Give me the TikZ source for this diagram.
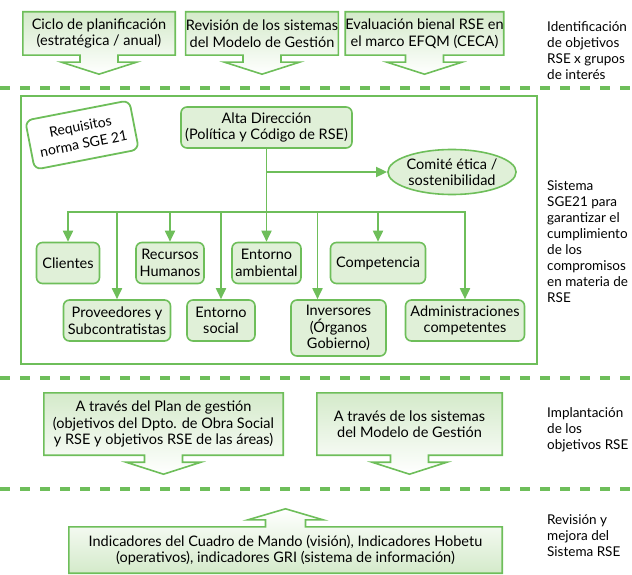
\documentclass[tikz,border=0pt]{standalone}
\usepackage{fontspec}
\setmainfont{Lato}
\usetikzlibrary{shapes.geometric,backgrounds,calc,arrows.meta}

\definecolor{sgegreen}{RGB}{110,190,90}
\definecolor{sgelight}{RGB}{224,240,216}
\definecolor{sgeshade}{RGB}{212,234,202}

\begin{document}
\begin{tikzpicture}[
x=1pt,y=-1pt,
every node/.style={font=\fontsize{14.5}{16.5}\selectfont},
arrowbox/.style={
  align=center,
  inner sep=0pt
  },
grupo/.style={
  draw=sgegreen,
  fill=sgelight,
  line width=1.6pt,
  rounded corners=6pt,
  align=center,
  inner sep=0pt,
  minimum height=41pt
  },
nota/.style={anchor=west,align=left,inner sep=0pt,font=\fontsize{13.5}{16}\selectfont},
conn/.style={sgegreen,line width=1.8pt},
arrowed/.style={-{Triangle[length=11pt,width=10pt]}},
divider/.style={sgegreen,line width=3.5pt,dash pattern=on 10pt off 10pt},
flecha/.style={draw=sgegreen,line width=1.6pt}
]
\useasboundingbox (0,0) rectangle (632,575);

% objetivos
\node[arrowbox,minimum width=152pt,minimum height=43pt] (ciclo) at (99,33.5) {Ciclo de planificación\\(estratégica / anual)};
\node[arrowbox,minimum width=152pt,minimum height=43pt] (revision) at (262,33.5) {Revisión de los sistemas\\del Modelo de Gestión};
\node[arrowbox,minimum width=153pt,minimum height=43pt] (evaluacion) at (424.5,33.5) {Evaluación bienal RSE en\\el marco EFQM (CECA)};
\node[nota] (identificacion) at (547,51) {Identificación\\de objetivos\\RSE x grupos\\de interés};

\draw[divider] (0,88) -- (632,88);

% sistema SGE21
\draw[sgegreen,line width=2.5pt] (21,96) rectangle (537,364);
\node[draw=sgegreen,fill=white,line width=1.8pt,rounded corners=7pt,rotate=11,
  minimum width=106pt,minimum height=50pt,align=center,inner sep=0pt,
  font=\fontsize{14}{17.5}\selectfont] (requisitos) at (82,135) {Requisitos\\norma SGE 21};
\node[grupo,minimum width=171pt] (alta) at (266.5,127.5) {Alta Dirección\\(Política y Código de RSE)};
\node[draw=sgegreen,fill=sgelight,line width=1.6pt,ellipse,align=center,inner sep=0pt,
  minimum width=120pt,minimum height=45pt] (comite) at (452,172) {Comité ética /\\sostenibilidad};

\node[grupo,minimum width=63pt] (clientes) at (68,263) {Clientes};
\node[grupo,minimum width=68pt] (recursos) at (170,263) {Recursos\\Humanos};
\node[grupo,minimum width=69pt] (ambiental) at (266.5,263) {Entorno\\ambiental};
\node[grupo,minimum width=95pt] (competencia) at (378,263) {Competencia};
\node[grupo,minimum width=107pt] (proveedores) at (117,320.5) {Proveedores y\\Subcontratistas};
\node[grupo,minimum width=68pt] (social) at (221,320.5) {Entorno\\social};
\node[grupo,minimum width=95pt,minimum height=56pt] (inversores) at (338.5,328) {Inversores\\(Órganos\\Gobierno)};
\node[grupo,minimum width=119pt] (administraciones) at (465,320.5) {Administraciones\\competentes};

\coordinate (fork) at (266.5,172);
\coordinate (bus) at (266.5,212);
\draw[conn] (alta) -- (bus);
\draw[conn,arrowed] (fork) -- (comite);
\draw[conn,{Triangle[length=11pt,width=10pt]}-{Triangle[length=11pt,width=10pt]}]
  (clientes.north) -- (clientes.north |- bus) -- (administraciones.north |- bus) -- (administraciones.north);
\foreach \n in {recursos,ambiental,competencia,proveedores,social}
  \draw[conn,arrowed] (\n.north |- bus) -- (\n.north);
\draw[conn,arrowed] ([xshift=-21pt]inversores.north |- bus) -- ([xshift=-21pt]inversores.north);
\node[nota] (sistema) at (547,242) {Sistema\\SGE21 para\\garantizar el\\cumplimiento\\de los\\compromisos\\en materia de\\RSE};

\draw[divider] (0,378) -- (632,378);

% implantacion
\node[arrowbox,minimum width=239pt,minimum height=62pt] (plan) at (163.5,424) {A través del Plan de gestión\\(objetivos del Dpto. de Obra Social\\y RSE y objetivos RSE de las áreas)};
\node[arrowbox,minimum width=185pt,minimum height=62pt] (sistemas) at (409.5,424) {A través de los sistemas\\del Modelo de Gestión};
\node[nota] (implantacion) at (547,430) {Implantación\\de los\\objetivos RSE};

\draw[divider] (0,489) -- (632,489);

% revision
\node[arrowbox,minimum width=433pt,minimum height=46pt] (indicadores) at (285.5,550) {Indicadores del Cuadro de Mando (visión), Indicadores Hobetu\\(operativos), indicadores GRI (sistema de información)};
\node[nota] (mejora) at (547,536) {Revisión y\\mejora del\\Sistema RSE};

\begin{pgfonlayer}{background}
\foreach \n in {ciclo,revision,evaluacion,plan,sistemas}
  \draw[flecha,top color=sgeshade,bottom color=white]
    (\n.north west) -- (\n.north east) -- (\n.south east)
    -- ($(\n.south)+(19,0)$) -- ++(0,7) -- ++(18.5,0) -- ($(\n.south)+(0,19)$)
    -- ($(\n.south)+(-37.5,7)$) -- ++(18.5,0) -- ++(0,-7) -- (\n.south west) -- cycle;
\draw[flecha,top color=white,bottom color=sgeshade]
  (indicadores.south west) -- (indicadores.south east) -- (indicadores.north east)
  -- ($(indicadores.north)+(20,0)$) -- ++(0,-7) -- ++(17.5,0) -- ($(indicadores.north)+(0,-18)$)
  -- ($(indicadores.north)+(-37.5,-7)$) -- ++(17.5,0) -- ++(0,7) -- (indicadores.north west) -- cycle;
\end{pgfonlayer}
\end{tikzpicture}
\end{document}
